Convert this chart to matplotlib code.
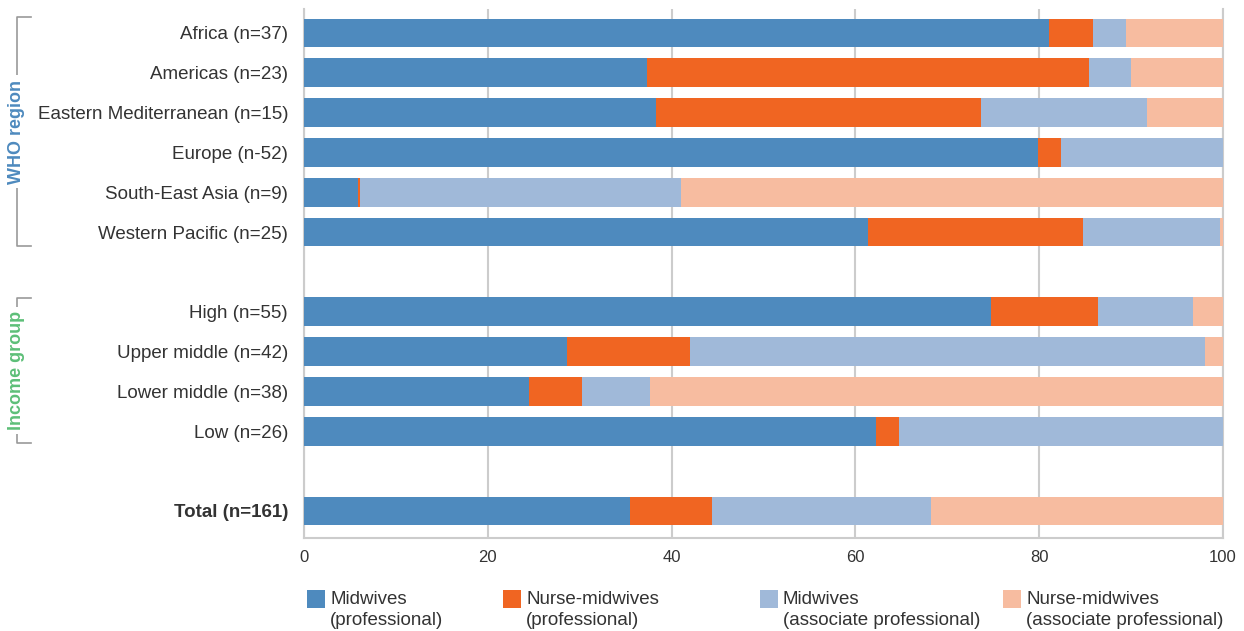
import matplotlib
matplotlib.use("Agg")
import matplotlib.pyplot as plt
import matplotlib.patches as patches
from matplotlib.lines import Line2D

plt.rcParams['font.family'] = ['Liberation Sans', 'DejaVu Sans']

# Rows (top to bottom) and their y slots; empty slots separate the groups
labels = ["Africa (n=37)", "Americas (n=23)", "Eastern Mediterranean (n=15)",
          "Europe (n-52)", "South-East Asia (n=9)", "Western Pacific (n=25)",
          "High (n=55)", "Upper middle (n=42)", "Lower middle (n=38)", "Low (n=26)",
          "Total (n=161)"]
slots = [0, 1, 2, 3, 4, 5, 7, 8, 9, 10, 12]

# Percentages per category
midwives_prof = [81.1, 37.3, 38.3, 79.9, 5.9, 61.4, 74.8, 28.6, 24.5, 62.2, 35.5]
nurse_mw_prof = [4.8, 48.1, 35.4, 2.5, 0.2, 23.4, 11.6, 13.4, 5.7, 2.5, 8.9]
midwives_assoc = [3.5, 4.6, 18.0, 17.6, 34.9, 14.9, 10.3, 56.0, 7.5, 35.3, 23.8]
nurse_mw_assoc = [10.6, 10.0, 8.3, 0.0, 59.0, 0.3, 3.3, 2.0, 62.3, 0.0, 31.8]

series = [midwives_prof, nurse_mw_prof, midwives_assoc, nurse_mw_assoc]
colors = ["#4e8abe", "#f06522", "#a0b9d9", "#f7bca0"]
legend_labels = ["Midwives\n(professional)", "Nurse-midwives\n(professional)",
                 "Midwives\n(associate professional)", "Nurse-midwives\n(associate professional)"]
ticks = [0, 20, 40, 60, 80, 100]

fig = plt.figure(figsize=(12.44, 6.31), dpi=100)
ax = fig.add_axes([0.2444, 0.1474, 0.7387, 0.8383])

left = [0.0] * len(labels)
for vals, col in zip(series, colors):
    ax.barh(slots, vals, left=left, height=0.72, color=col, linewidth=0, zorder=3)
    left = [l + v for l, v in zip(left, vals)]

ax.set_xlim(0, 100)
ax.set_ylim(12.68, -0.6)
ax.set_xticks(ticks)
ax.set_xticklabels([str(t) for t in ticks], fontsize=12, color="#333333")
ax.set_yticks(slots)
ax.set_yticklabels(labels, fontsize=13.5, color="#333333")
ax.get_yticklabels()[-1].set_fontweight("bold")
ax.tick_params(axis="x", length=0, pad=9)
ax.tick_params(axis="y", length=0, pad=11.5)
ax.grid(axis="x", color="#cccccc", linewidth=1.5, zorder=0)
ax.spines["top"].set_visible(False)
for s in ["left", "right", "bottom"]:
    ax.spines[s].set_color("#cccccc")
    ax.spines[s].set_linewidth(1.5)

# Group brackets on the left
def bracket(y0, y1, text, color):
    x0, x1 = 17 / 1244, 31 / 1244
    fy0, fy1 = 1 - y0 / 631, 1 - y1 / 631
    fig.add_artist(Line2D([x1, x0, x0, x1], [fy0, fy0, fy1, fy1],
                          color="#999999", linewidth=1.2))
    fig.text(x0, (fy0 + fy1) / 2, text, rotation=90, ha="center", va="center",
             fontsize=13, fontweight="bold", color=color,
             bbox=dict(facecolor="white", edgecolor="none", pad=3))

bracket(17, 246, "WHO region", "#4e8abe")
bracket(298, 443, "Income group", "#5dbf78")

# Legend at the bottom
legend_x = [307, 503, 760, 1003]
for x, col, lab in zip(legend_x, colors, legend_labels):
    fig.add_artist(patches.Rectangle((x / 1244, 1 - 608 / 631), 18 / 1244, 18 / 631,
                                     facecolor=col, edgecolor="none"))
    fig.text((x + 23) / 1244, 1 - 591 / 631, lab, ha="left", va="top",
             fontsize=13.5, color="#333333", linespacing=1.3)

fig.savefig("out.png", dpi=100)
